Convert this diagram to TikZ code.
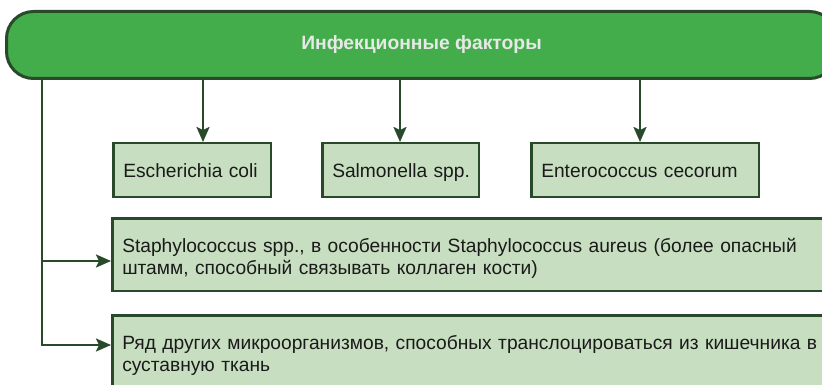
\documentclass[tikz,border=0pt]{standalone}
\usepackage{fontspec}
\setmainfont{Liberation Sans}
\usetikzlibrary{arrows.meta}
\definecolor{hdrgreen}{HTML}{43AD4B}
\definecolor{dkgreen}{HTML}{284A2B}
\definecolor{boxgreen}{HTML}{C7DFC0}
\definecolor{txtcol}{HTML}{1A1A1A}
\definecolor{hdrtxt}{HTML}{E8E8E8}
\begin{document}
\begin{tikzpicture}[x=1pt,y=-1pt,
  hdr/.style={draw=dkgreen, fill=hdrgreen, line width=3pt, rounded corners=27pt,
    minimum width=830pt, minimum height=67pt, inner sep=0pt, text=hdrtxt,
    font=\fontsize{19.3}{22}\selectfont\bfseries},
  bbox/.style={draw=dkgreen, fill=boxgreen, line width=2.5pt, inner xsep=10pt, inner ysep=0pt,
    text=txtcol, align=left, font=\fontsize{19.2}{22}\selectfont},
  sbox/.style={bbox, minimum height=53.5pt, text height=19pt, text depth=4pt},
  conn/.style={draw=dkgreen, line width=2.3pt, -{Stealth[length=15pt,width=13pt,inset=3pt]}}
]
\useasboundingbox (0,0) rectangle (822,385);
\clip (0,0) rectangle (822,385);
\node[hdr] (top) at (421.5,45) {Инфекционные факторы};
\node[sbox, minimum width=157.5pt, text width=137.5pt] (ecoli) at (192,170) {\mbox{Escherichia coli}};
\node[sbox, minimum width=156.5pt, text width=136.5pt] (salm) at (400.5,170) {\mbox{Salmonella spp.}};
\node[sbox, minimum width=227.5pt, text width=207.5pt] (entero) at (645,170) {\mbox{Enterococcus cecorum}};
\node[bbox, minimum width=787.5pt, minimum height=72.5pt, text width=767.5pt] (staph) at (506,254.5)
  {\rule{0pt}{21pt}Staphylococcus spp., в особенности Staphylococcus aureus (более опасный\\штамм, способный связывать коллаген кости)};
\node[bbox, minimum width=787.5pt, minimum height=72.5pt, text width=767.5pt] (other) at (506,351.5)
  {\rule{0pt}{21pt}Ряд других микроорганизмов, способных транслоцироваться из кишечника в\\суставную ткань};
\coordinate (split) at (42,261);
\draw[conn] (top.south -| 203,0) -- (ecoli.north -| 203,0);
\draw[conn] (top.south -| 400,0) -- (salm.north -| 400,0);
\draw[conn] (top.south -| 640,0) -- (entero.north -| 640,0);
\draw[conn] (split) -- (staph.west |- split);
\draw[conn] (top.south -| split) |- (other.west |- 0,345);
\end{tikzpicture}
\end{document}
